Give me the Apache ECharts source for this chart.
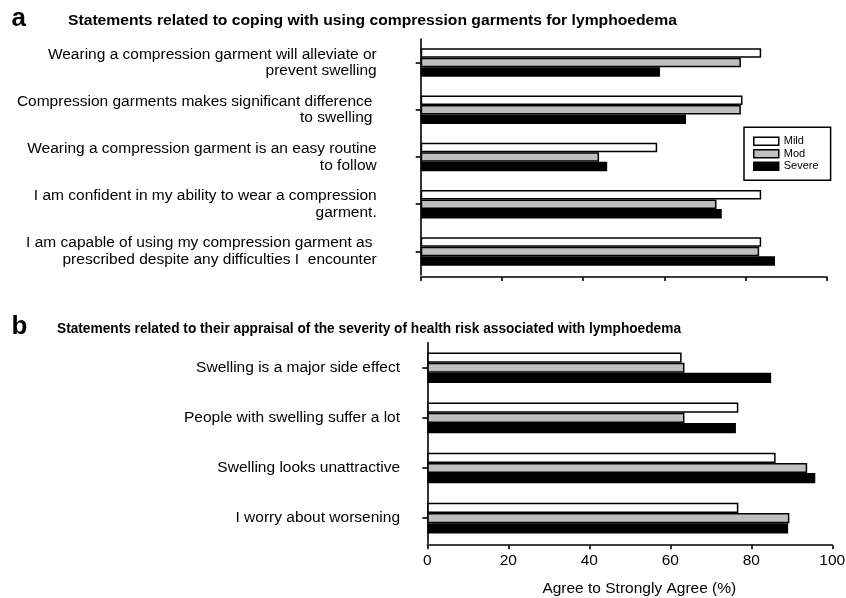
<!DOCTYPE html>
<html><head><meta charset="utf-8">
<script src="https://cdn.jsdelivr.net/npm/echarts@6/dist/echarts.min.js"></script>
<style>html,body{margin:0;padding:0;background:#fff}#c{width:846px;height:598px}</style>
</head><body><div id="c"></div>
<script>
// ---- data ----
const seriesNames = ['Mild', 'Mod', 'Severe'];
const catsA = [
  'Wearing a compression garment will alleviate or\nprevent swelling',
  'Compression garments makes significant difference \nto swelling ',
  'Wearing a compression garment is an easy routine\nto follow',
  'I am confident in my ability to wear a compression\ngarment.',
  'I am capable of using my compression garment as \nprescribed despite any difficulties I  encounter'
];
const mildA = [83.8, 79.2, 58.2, 83.8, 83.8];
const modA = [78.8, 78.8, 43.9, 72.8, 83.3];
const severeA = [58.9, 65.3, 45.9, 74.1, 87.2];

const catsB = [
  'Swelling is a major side effect',
  'People with swelling suffer a lot',
  'Swelling looks unattractive',
  'I worry about worsening'
];
const mildB = [62.8, 76.8, 86.0, 76.8];
const modB = [63.5, 63.5, 93.8, 89.4];
const severeB = [84.9, 76.2, 95.8, 89.1];

const titleA = 'Statements related to coping with using compression garments for lymphoedema';
const titleB = 'Statements related to their appraisal of the severity of health risk associated with lymphoedema';
const xName = 'Agree to Strongly Agree (%)';

// ---- style ----
const FF = '"Liberation Sans", Arial, sans-serif';
const colors = ['#ffffff', '#bfbfbf', '#000000'];
function measure(text, font) {
  const c = document.createElement('canvas').getContext('2d');
  c.font = font; return c.measureText(text).width;
}
const titleFont = 'bold 15.5px ' + FF;
const sA = 609 / measure(titleA, titleFont);
const sB = 624 / measure(titleB, titleFont);

const axisLineStyle = { color: '#000', width: 1.6 };
function yAxis(gi, cats, off, margin) {
  return {
    gridIndex: gi, type: 'category', data: cats, inverse: true, offset: off,
    axisLine: { show: true, lineStyle: axisLineStyle },
    axisTick: { show: true, alignWithLabel: true, length: 5, lineStyle: axisLineStyle },
    axisLabel: { interval: 0, margin: margin, fontSize: 15.5, lineHeight: 16.5, color: '#000', fontFamily: FF, align: 'right' },
    splitLine: { show: false }
  };
}
function xAxis(gi, showLabels) {
  const o = {
    gridIndex: gi, type: 'value', min: 0, max: 100, interval: 20, offset: 2,
    axisLine: { show: true, lineStyle: axisLineStyle },
    axisTick: { show: true, length: 4, lineStyle: axisLineStyle },
    axisLabel: { show: showLabels, margin: 8, fontSize: 15.5, color: '#000', fontFamily: FF },
    splitLine: { show: false }
  };
  if (showLabels) {
    o.name = xName; o.nameLocation = 'middle'; o.nameGap = 36;
    o.nameTextStyle = { fontSize: 15.5, color: '#000', fontFamily: FF, padding: [0, 0, 0, 19] };
  }
  return o;
}
function bars(gi, arrs, bw) {
  return arrs.map((d, i) => ({
    name: seriesNames[i], type: 'bar', xAxisIndex: gi, yAxisIndex: gi, data: d,
    barWidth: bw, barGap: '0%', silent: true,
    itemStyle: { color: colors[i], borderColor: '#000', borderWidth: 1.5 },
    emphasis: { disabled: true }
  }));
}

const chart = echarts.init(document.getElementById('c'));
chart.setOption({
  animation: false,
  backgroundColor: '#fff',
  grid: [
    { left: 420.7, top: 39, width: 406.3, height: 236, outerBoundsMode: 'none', containLabel: false },
    { left: 427.3, top: 342.7, width: 405, height: 200.5, outerBoundsMode: 'none', containLabel: false }
  ],
  xAxis: [xAxis(0, false), xAxis(1, true)],
  yAxis: [yAxis(0, catsA, 14.7, 29.3), yAxis(1, catsB, 14, 13.3)],
  legend: {
    data: seriesNames, orient: 'vertical', left: 744, top: 127.3,
    borderColor: '#000', borderWidth: 1.5, padding: [8, 12, 8, 9],
    itemWidth: 25, itemHeight: 8, itemGap: 0.5, selectedMode: false,
    icon: 'rect',
    itemStyle: { borderColor: '#000', borderWidth: 1.5 },
    textStyle: { fontSize: 11, lineHeight: 12, color: '#000', fontFamily: FF }
  },
  series: [...bars(0, [mildA, modA, severeA], 9.5), ...bars(1, [mildB, modB, severeB], 10.2)],
  graphic: [
    { type: 'text', x: 11.5, y: 18.9, style: { text: 'a', font: 'bold 26px ' + FF, fill: '#000', align: 'left', verticalAlign: 'middle' } },
    { type: 'text', x: 68, y: 20.5, scaleX: sA, style: { text: titleA, font: titleFont, fill: '#000', align: 'left', verticalAlign: 'middle' } },
    { type: 'text', x: 11.5, y: 327, style: { text: 'b', font: 'bold 26px ' + FF, fill: '#000', align: 'left', verticalAlign: 'middle' } },
    { type: 'text', x: 57, y: 328.8, scaleX: sB, style: { text: titleB, font: titleFont, fill: '#000', align: 'left', verticalAlign: 'middle' } }
  ]
});
</script>
</body></html>
